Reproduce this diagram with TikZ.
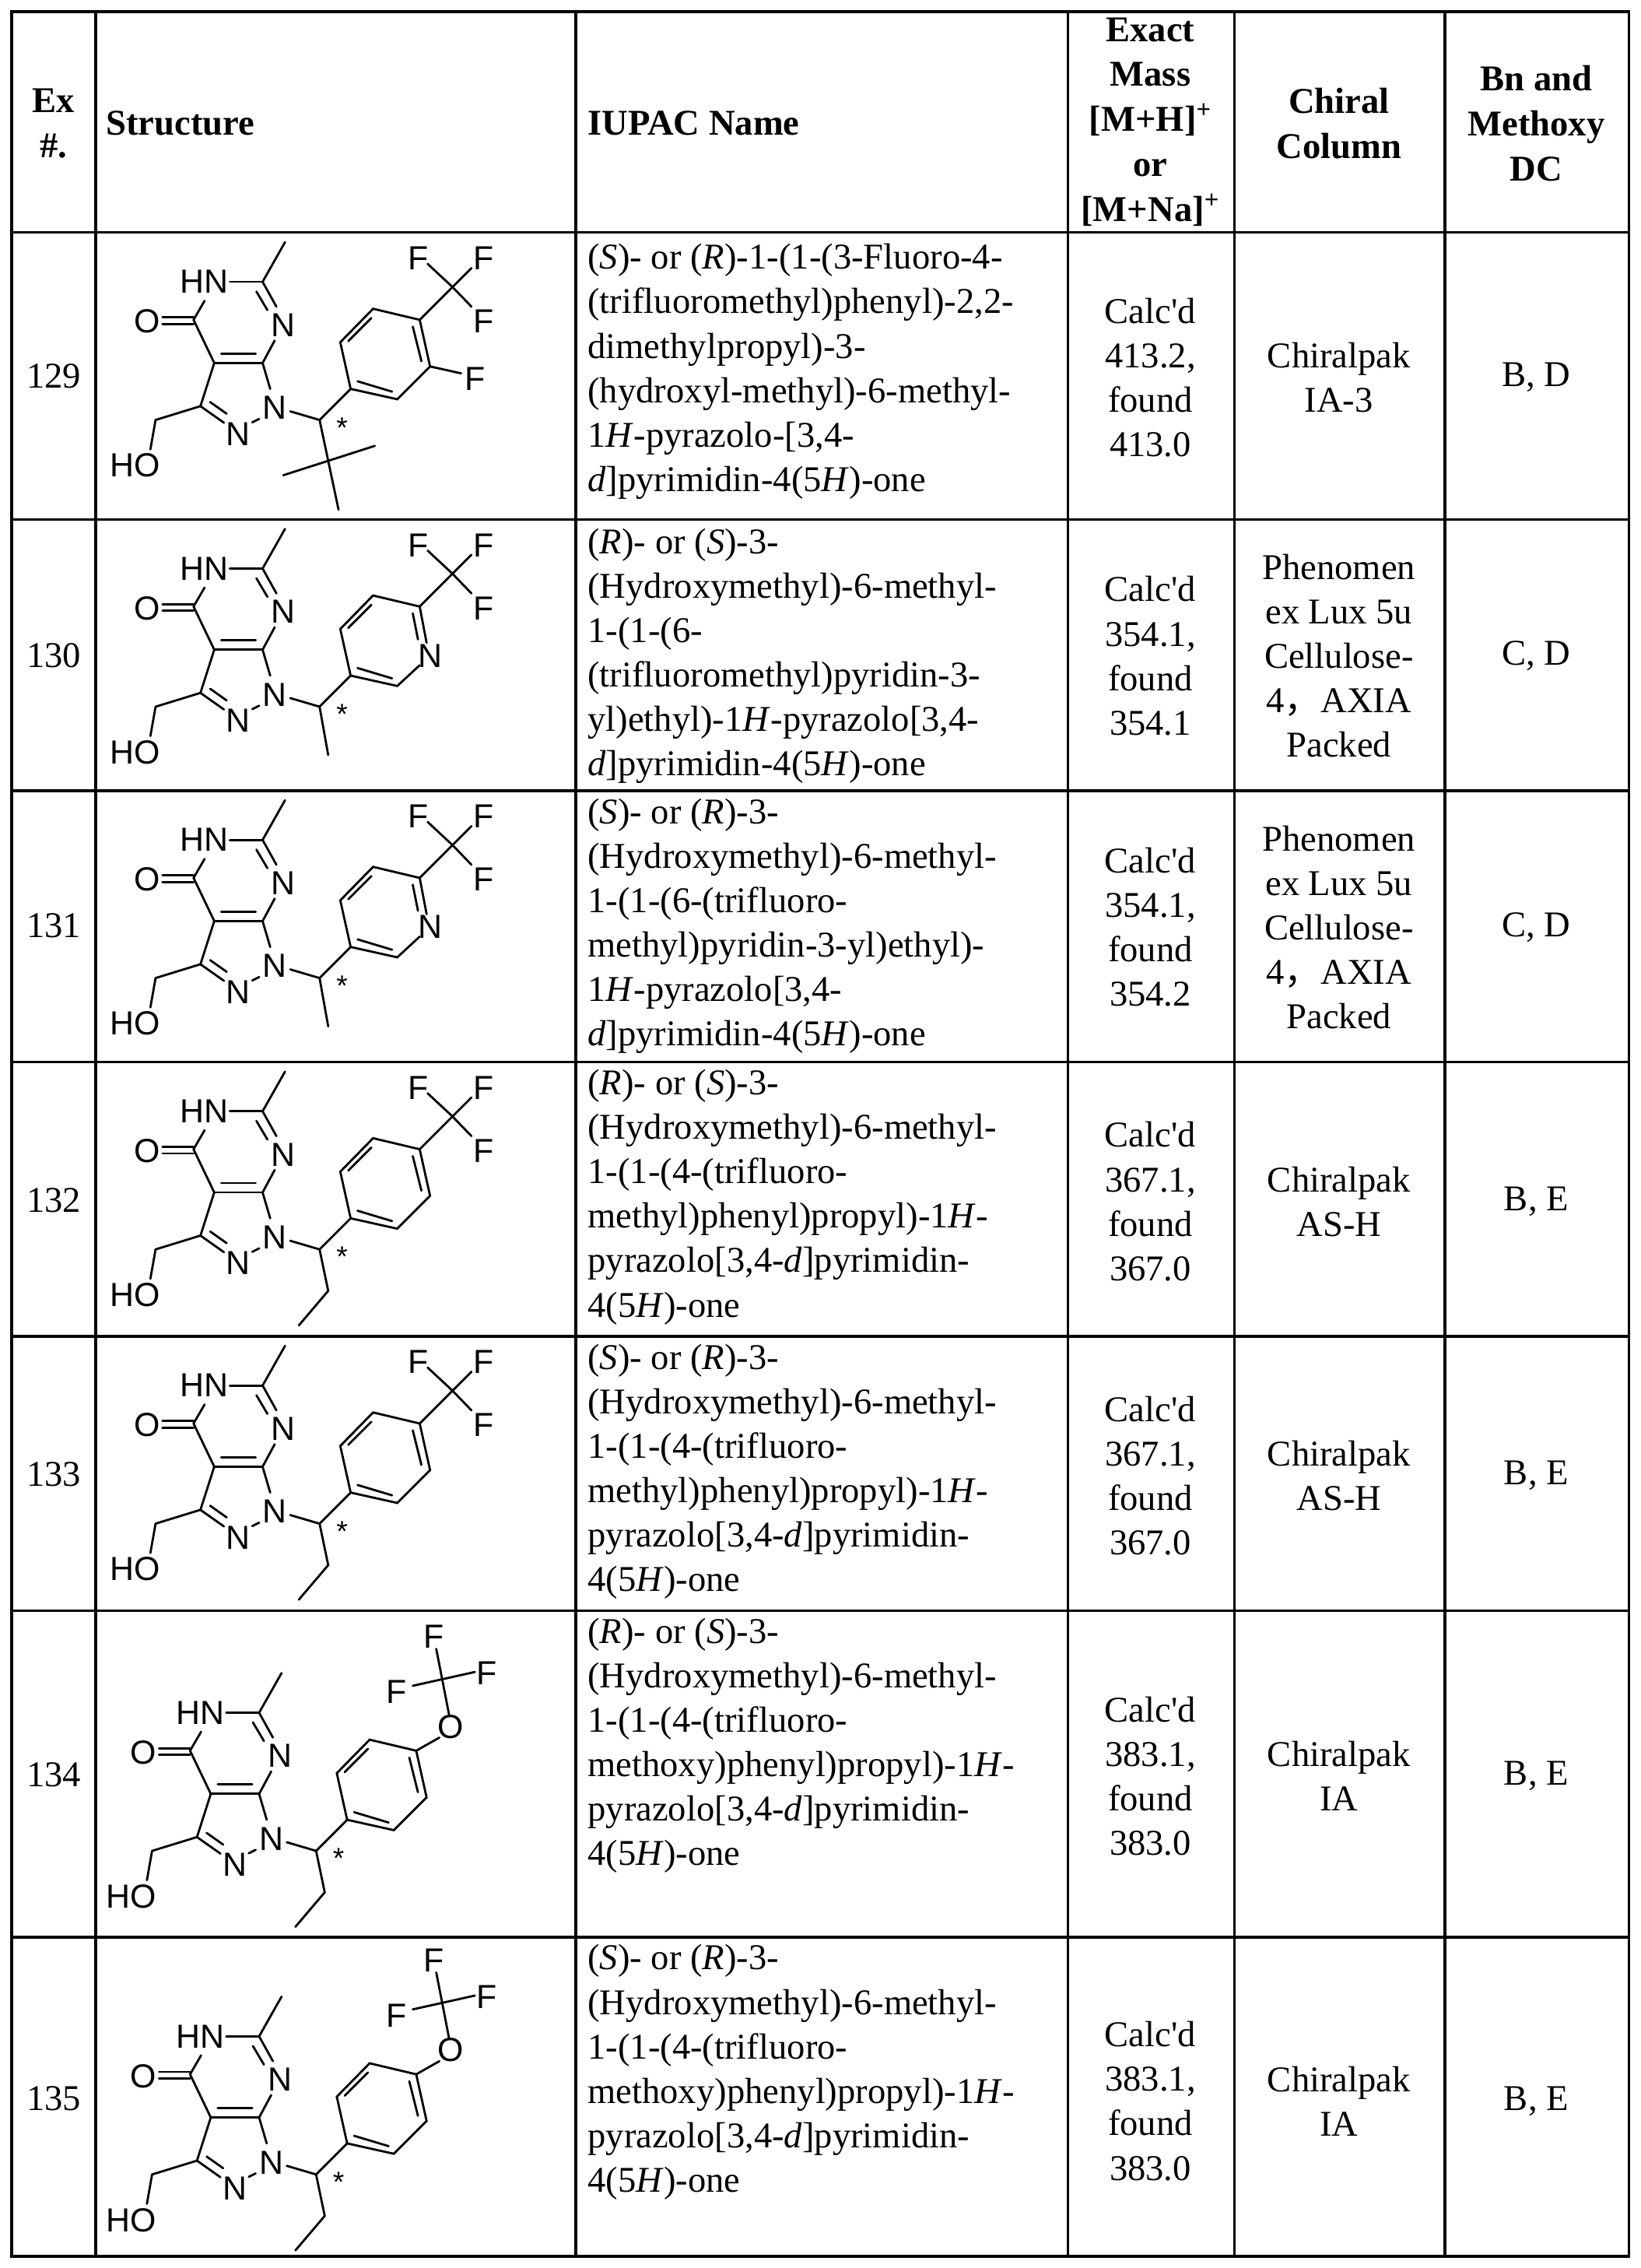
\documentclass[tikz,border=0pt]{standalone}
\usepackage{fontspec}
\setmainfont{Liberation Serif}
\newfontfamily\atomfont{Liberation Sans}
\newfontfamily\cjk{Noto Sans CJK SC}
\newcommand\cd{Calc\textquotesingle d}
\begin{document}
\begin{tikzpicture}[x=1pt,y=-1pt,
  grid/.style={line width=1.8pt},
  bond/.style={line width=1.5pt,line cap=round},
  atom/.style={font=\atomfont\fontsize{23}{23}\selectfont,inner sep=0pt},
  body/.style={font=\fontsize{25}{30.6}\selectfont,inner sep=0pt,align=center},
  iupac/.style={font=\fontsize{25}{30.6}\selectfont,inner sep=0pt,align=left,anchor=north west},
  head/.style={font=\bfseries\fontsize{25}{31}\selectfont,inner sep=0pt,align=center}]
\useasboundingbox (0,0) rectangle (1131,1563);
\fill[white] (0,0) rectangle (1131,1563);
% grid
\draw[grid] (8,8) rectangle (1123,1555);
\foreach \xx in {66,397,736,851,996} \draw[grid] (\xx,8) -- (\xx,1555);
\foreach \yy in {160,358,545,732,921,1110,1335} \draw[grid] (8,\yy) -- (1123,\yy);
% header
\node[head] (h1) at (37,85) {Ex\\\#.};
\node[head,anchor=west] (h2) at (73,85) {Structure};
\node[head,anchor=west] (h3) at (405,85) {IUPAC Name};
\node[head] (h4) at (793,84) {Exact\\Mass\\{[}M+H{]}\textsuperscript{+}\\or\\{[}M+Na{]}\textsuperscript{+}};
\node[head] (h5) at (923,85) {Chiral\\Column};
\node[head] (h6) at (1059,85) {Bn and\\Methoxy\\DC};
% ---------- structure macros
\newcommand\pcore{%
 \draw[bond] (555,25)--(490,140);
 \draw[bond] (395,140)--(490,140);
 \draw[bond] (490,140)--(530,212);
 \draw[bond] (472,168)--(504,222);
 \draw[bond] (525,310)--(490,375);
 \draw[bond] (490,375)--(350,375);
 \draw[bond] (470,348)--(370,348);
 \draw[bond] (350,375)--(290,250);
 \draw[bond] (290,243)--(200,243);
 \draw[bond] (290,262)--(200,262);
 \draw[bond] (290,250)--(322,195);
 \draw[bond] (350,375)--(310,500);
 \draw[bond] (310,500)--(378,548);
 \draw[bond] (338,488)--(386,522);
 \draw[bond] (460,547)--(480,537);
 \draw[bond] (512,450)--(490,375);
 \draw[bond] (310,500)--(180,540);
 \draw[bond] (180,540)--(165,625);
 \draw[bond] (570,515)--(655,540);
 \draw[bond] (655,540)--(745,450);
 \node[atom] (hn) at (320,140) {HN};
 \node[atom] (o4) at (155,255) {O};
 \node[atom] (n7) at (550,265) {N};
 \node[atom] (n2) at (420,580) {N};
 \node[atom] (n1) at (525,505) {N};
 \node[atom] (ho) at (120,672) {HO};
 \node[atom,font=\atomfont\fontsize{20}{20}\selectfont] (st) at (720,562) {*};
}
\newcommand\pbenz{%
 \draw[bond] (745,450)--(880,480)--(975,385)--(945,250)--(810,218)--(715,315)--cycle;
 \draw[bond] (765,428)--(865,458);
 \draw[bond] (950,370)--(925,270);
 \draw[bond] (805,245)--(738,312);
}
\newcommand\ppyr{%
 \draw[bond] (945,420)--(880,480)--(745,450)--(715,315)--(810,218)--(945,250)--(965,355);
 \draw[bond] (765,428)--(865,458);
 \draw[bond] (940,345)--(925,270);
 \draw[bond] (805,245)--(738,312);
 \node[atom] (npy) at (975,392) {N};
}
\newcommand\pcf{%
 \draw[bond] (945,250)--(1040,155);
 \draw[bond] (1040,155)--(968,88);
 \draw[bond] (1040,155)--(1095,100);
 \draw[bond] (1040,155)--(1095,212);
 \node[atom] (fa) at (940,72) {F};
 \node[atom] (fb) at (1130,72) {F};
 \node[atom] (fc) at (1130,255) {F};
}
\newcommand\pocf{%
 \draw[bond] (945,250)--(1012,212);
 \draw[bond] (1040,145)--(1020,42)--(1003,-45);
 \draw[bond] (935,62)--(1115,22);
 \node[atom] (oo) at (1045,180) {O};
 \node[atom] (fa) at (995,-80) {F};
 \node[atom] (fb) at (888,80) {F};
 \node[atom] (fc) at (1150,25) {F};
}
\newcommand\pethyl{\draw[bond] (655,540)--(680,660)--(595,760);}
\newcommand\pmethyl{\draw[bond] (655,540)--(680,680);}
\tikzset{mol/.style={x=0.238pt,y=-0.238pt}}
% row 129
\begin{scope}[shift={(64.4,160.9)},mol]
 \pcore\pbenz\pcf
 \draw[bond] (975,385)--(1065,405);
 \node[atom] (ff) at (1105,420) {F};
 \draw[bond] (655,540)--(710,800);
 \draw[bond] (550,700)--(815,615);
\end{scope}
\begin{scope}[shift={(64.4,358.5)},mol]\pcore\ppyr\pcf\pmethyl\end{scope}
\begin{scope}[shift={(64.4,545.5)},mol]\pcore\ppyr\pcf\pmethyl\end{scope}
\begin{scope}[shift={(64.4,732.5)},mol]\pcore\pbenz\pcf\pethyl\end{scope}
\begin{scope}[shift={(64.4,921.5)},mol]\pcore\pbenz\pcf\pethyl\end{scope}
\begin{scope}[shift={(62,1147)},mol]\pcore\pbenz\pocf\pethyl\end{scope}
\begin{scope}[shift={(62,1370)},mol]\pcore\pbenz\pocf\pethyl\end{scope}
% ---------- numbers
\node[body] (e129) at (37,259) {129};
\node[body] (e130) at (37,452) {130};
\node[body] (e131) at (37,638) {131};
\node[body] (e132) at (37,827) {132};
\node[body] (e133) at (37,1016) {133};
\node[body] (e134) at (37,1223) {134};
\node[body] (e135) at (37,1446) {135};
% ---------- IUPAC names
\node[iupac] (i129) at (405,168) {(\textit{S})- or (\textit{R})-1-(1-(3-Fluoro-4-\\(trifluoromethyl)phenyl)-2,2-\\dimethylpropyl)-3-\\(hydroxyl-methyl)-6-methyl-\\1\textit{H}-pyrazolo-[3,4-\\\textit{d}]pyrimidin-4(5\textit{H})-one};
\node[iupac] (i130) at (405,364) {(\textit{R})- or (\textit{S})-3-\\(Hydroxymethyl)-6-methyl-\\1-(1-(6-\\(trifluoromethyl)pyridin-3-\\yl)ethyl)-1\textit{H}-pyrazolo[3,4-\\\textit{d}]pyrimidin-4(5\textit{H})-one};
\node[iupac] (i131) at (405,550) {(\textit{S})- or (\textit{R})-3-\\(Hydroxymethyl)-6-methyl-\\1-(1-(6-(trifluoro-\\methyl)pyridin-3-yl)ethyl)-\\1\textit{H}-pyrazolo[3,4-\\\textit{d}]pyrimidin-4(5\textit{H})-one};
\node[iupac] (i132) at (405,737) {(\textit{R})- or (\textit{S})-3-\\(Hydroxymethyl)-6-methyl-\\1-(1-(4-(trifluoro-\\methyl)phenyl)propyl)-1\textit{H}-\\pyrazolo[3,4-\textit{d}]pyrimidin-\\4(5\textit{H})-one};
\node[iupac] (i133) at (405,926) {(\textit{S})- or (\textit{R})-3-\\(Hydroxymethyl)-6-methyl-\\1-(1-(4-(trifluoro-\\methyl)phenyl)propyl)-1\textit{H}-\\pyrazolo[3,4-\textit{d}]pyrimidin-\\4(5\textit{H})-one};
\node[iupac] (i134) at (405,1115) {(\textit{R})- or (\textit{S})-3-\\(Hydroxymethyl)-6-methyl-\\1-(1-(4-(trifluoro-\\methoxy)phenyl)propyl)-1\textit{H}-\\pyrazolo[3,4-\textit{d}]pyrimidin-\\4(5\textit{H})-one};
\node[iupac] (i135) at (405,1340) {(\textit{S})- or (\textit{R})-3-\\(Hydroxymethyl)-6-methyl-\\1-(1-(4-(trifluoro-\\methoxy)phenyl)propyl)-1\textit{H}-\\pyrazolo[3,4-\textit{d}]pyrimidin-\\4(5\textit{H})-one};
% ---------- masses
\node[body] (m129) at (793,260) {\cd\\413.2,\\found\\413.0};
\node[body] (m130) at (793,452) {\cd\\354.1,\\found\\354.1};
\node[body] (m131) at (793,639) {\cd\\354.1,\\found\\354.2};
\node[body] (m132) at (793,828) {\cd\\367.1,\\found\\367.0};
\node[body] (m133) at (793,1017) {\cd\\367.1,\\found\\367.0};
\node[body] (m134) at (793,1224) {\cd\\383.1,\\found\\383.0};
\node[body] (m135) at (793,1448) {\cd\\383.1,\\found\\383.0};
% ---------- chiral columns
\node[body] (c129) at (923,260) {Chiralpak\\IA-3};
\node[body] (c130) at (923,452) {Phenomen\\ex Lux 5u\\Cellulose-\\4{\cjk ，}AXIA\\Packed};
\node[body] (c131) at (923,639) {Phenomen\\ex Lux 5u\\Cellulose-\\4{\cjk ，}AXIA\\Packed};
\node[body] (c132) at (923,828) {Chiralpak\\AS-H};
\node[body] (c133) at (923,1017) {Chiralpak\\AS-H};
\node[body] (c134) at (923,1224) {Chiralpak\\IA};
\node[body] (c135) at (923,1448) {Chiralpak\\IA};
% ---------- Bn
\node[body] (b129) at (1059,260) {B, D};
\node[body] (b130) at (1059,452) {C, D};
\node[body] (b131) at (1059,639) {C, D};
\node[body] (b132) at (1059,828) {B, E};
\node[body] (b133) at (1059,1017) {B, E};
\node[body] (b134) at (1059,1224) {B, E};
\node[body] (b135) at (1059,1448) {B, E};
\end{tikzpicture}
\end{document}
